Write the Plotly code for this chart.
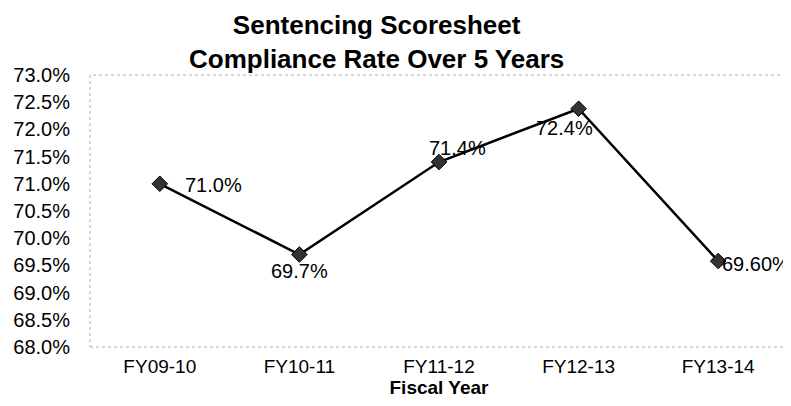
import plotly.graph_objects as go

fiscal_years = ["FY09-10", "FY10-11", "FY11-12", "FY12-13", "FY13-14"]
compliance_rate = [71.0, 69.7, 71.4, 72.38, 69.58]
point_labels = ["71.0%", "69.7%", "71.4%", "72.4%", "69.60%"]
y_tick_values = [68.0, 68.5, 69.0, 69.5, 70.0, 70.5, 71.0, 71.5, 72.0, 72.5, 73.0]
y_tick_labels = ["68.0%", "68.5%", "69.0%", "69.5%", "70.0%", "70.5%", "71.0%", "71.5%", "72.0%", "72.5%", "73.0%"]
title_lines = ["Sentencing Scoresheet", "Compliance Rate Over 5 Years"]

# label offsets in pixels (xshift, yshift)
label_offsets = [(54, -1), (0, -16), (18, 14), (-14, -19), (38, -3)]

FONT = "Liberation Sans, Arial, sans-serif"

fig = go.Figure()
fig.add_trace(go.Scatter(
    x=fiscal_years, y=compliance_rate, mode="lines+markers",
    line=dict(color="black", width=2.5),
    marker=dict(symbol="diamond", size=12, color="#333333", line=dict(color="black", width=1)),
    hoverinfo="skip", showlegend=False,
))

for xv, yv, lab, (dx, dy) in zip(fiscal_years, compliance_rate, point_labels, label_offsets):
    fig.add_annotation(x=xv, y=yv, text=lab, showarrow=False, xshift=dx, yshift=dy,
                       font=dict(family=FONT, size=20, color="black"))

fig.add_annotation(xref="paper", yref="paper", x=0.41, y=1.122, xanchor="center",
                   yanchor="middle", text="<b>" + "<br>".join(title_lines) + "</b>",
                   showarrow=False, borderpad=0,
                   font=dict(family=FONT, size=26, color="black"))

fig.add_shape(type="rect", xref="paper", yref="paper", x0=0, y0=0, x1=1, y1=1,
              line=dict(color="#b0b0b0", width=1, dash="dot"), layer="below")

fig.update_layout(
    width=783, height=398,
    margin=dict(l=82, r=3, t=67, b=59),
    paper_bgcolor="white", plot_bgcolor="white",
    font=dict(family=FONT, size=20, color="black"),
    xaxis=dict(type="category", range=[-0.5, 4.5], showgrid=False, zeroline=False,
               showline=False, ticks="", ticklabelstandoff=6,
               tickfont=dict(family=FONT, size=19),
               title=dict(text="<b>Fiscal Year</b>", standoff=4,
                          font=dict(family=FONT, size=19))),
    yaxis=dict(range=[68, 73], tickvals=y_tick_values, ticktext=y_tick_labels,
               showgrid=False, zeroline=False, showline=False, ticks="",
               ticklabelstandoff=19, tickfont=dict(family=FONT, size=20)),
)

fig.write_html("out.html")
